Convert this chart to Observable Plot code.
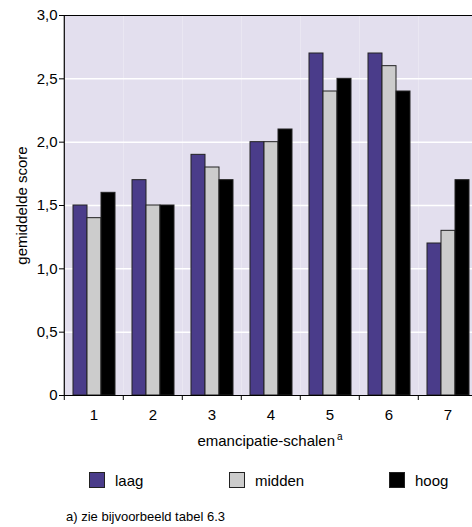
<!DOCTYPE html>
<html><head><meta charset="utf-8">
<script src="https://cdn.jsdelivr.net/npm/d3@7"></script>
<script src="https://cdn.jsdelivr.net/npm/@observablehq/plot@0.6"></script>
<style>
html,body{margin:0;padding:0;background:#fff;overflow:hidden;width:472px;height:527px}
body{position:relative;font-family:"Liberation Sans",Arial,sans-serif;color:#000}
#chart{position:absolute;left:0;top:0}
.xtitle{position:absolute;top:432px;left:0;width:540px;text-align:center;font-size:15px;line-height:17px}
.xtitle sup{font-size:10px;vertical-align:6px;line-height:0;margin-left:2px}
.leg{position:absolute;top:472px;height:16px;display:flex;align-items:center;font-size:15px}
.sw{width:14px;height:14px;border:1px solid #222;margin-right:10px}
.note{position:absolute;left:66px;top:509px;font-size:13px;line-height:15px}
</style></head>
<body>
<div id="chart"></div>
<div class="xtitle">emancipatie-schalen<sup>a</sup></div>
<div id="legend"></div>
<div class="note">a) zie bijvoorbeeld tabel 6.3</div>
<script>
const schalen = [1, 2, 3, 4, 5, 6, 7];
const groepen = ["laag", "midden", "hoog"];
const laag   = [1.5, 1.7, 1.9, 2.0, 2.7, 2.7, 1.2];
const midden = [1.4, 1.5, 1.8, 2.0, 2.4, 2.6, 1.3];
const hoog   = [1.6, 1.5, 1.7, 2.1, 2.5, 2.4, 1.7];
const kleuren = ["#4a3c8a", "#cccccc", "#000000"];
const yTicks = [0, 0.5, 1, 1.5, 2, 2.5, 3];
const gridTicks = [0.5, 1, 1.5, 2, 2.5];

const series = {laag, midden, hoog};
const rows = schalen.flatMap((s, i) => groepen.map(g => ({schaal: s, groep: g, score: series[g][i]})));

const W = 472, H = 425, ML = 62, MR = -6, MT = 15, MB = 30;
const step = (W - ML - MR) / schalen.length;
const fmt = d => d === 0 ? "0" : d.toFixed(1).replace(".", ",");

const chart = Plot.plot({
  width: W, height: H,
  marginLeft: ML, marginRight: MR, marginTop: MT, marginBottom: MB,
  style: {fontFamily: '"Liberation Sans", Arial, sans-serif', fontSize: "15px", color: "#000", background: "transparent"},
  fx: {domain: schalen, paddingInner: 0, paddingOuter: 0, label: null},
  x: {domain: groepen, paddingInner: 0, paddingOuter: 0.48, axis: null},
  y: {domain: [0, 3], label: null},
  color: {domain: groepen, range: kleuren},
  marks: [
    Plot.frame({fill: "#e3dfee", stroke: "none"}),
    Plot.gridY(gridTicks, {stroke: "#ffffff", strokeOpacity: 1, strokeWidth: 1.5}),
    Plot.barY(rows, {fx: "schaal", x: "groep", y: "score", fill: "groep", stroke: "#222", strokeWidth: 1}),
    Plot.ruleY([0, 3], {stroke: "#000", strokeWidth: 1.2}),
    Plot.ruleX(schalen, {fx: d => d, x: null, y1: 0, y2: 0, insetBottom: -5, dx: -step / 2, stroke: "#000"}),
    Plot.ruleX([1], {fx: d => d, x: null, y1: 0, y2: 3, dx: -step / 2, stroke: "#000", strokeWidth: 1.2}),
    Plot.axisY({ticks: yTicks, tickFormat: fmt, tickSize: 5, tickPadding: 2, fontSize: 15, label: "gemiddelde score", labelAnchor: "center", labelOffset: 48, labelArrow: "none"}),
    Plot.axisFx({anchor: "bottom", tickSize: 0, tickPadding: 14, fontSize: 15, label: null})
  ]
});
document.getElementById("chart").appendChild(chart);

const legPos = [89, 229, 389];
const legend = document.getElementById("legend");
groepen.forEach((g, i) => {
  const item = document.createElement("div");
  item.className = "leg";
  item.style.left = legPos[i] + "px";
  const sw = document.createElement("div");
  sw.className = "sw";
  sw.style.background = kleuren[i];
  const t = document.createElement("span");
  t.textContent = g;
  item.appendChild(sw); item.appendChild(t);
  legend.appendChild(item);
});
</script>
</body></html>
